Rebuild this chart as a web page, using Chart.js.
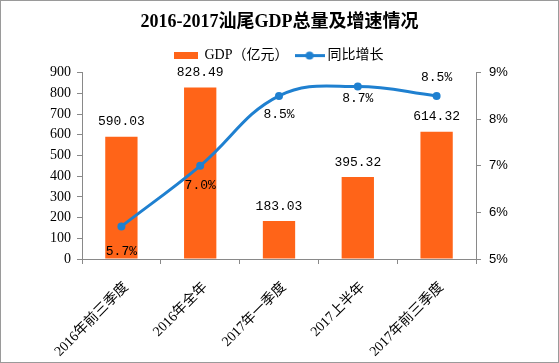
<!DOCTYPE html>
<html>
<head>
<meta charset="utf-8">
<script src="https://cdn.jsdelivr.net/npm/chart.js@4.4.0/dist/chart.umd.min.js"></script>
<style>
  html, body { margin: 0; padding: 0; background: #fff; }
</style>
</head>
<body>
<canvas id="gdpChart" width="559" height="363"></canvas>
<script>
// data
const categories = ['2016年前三季度', '2016年全年', '2017年一季度', '2017上半年', '2017年前三季度'];
const gdpValues = [590.03, 828.49, 183.03, 395.32, 614.32];   // 亿元
const growthValues = [5.7, 7.0, 8.5, 8.7, 8.5];              // %
const gdpTicks = { min: 0, max: 900, step: 100 };
const growthTicks = { min: 5, max: 9, step: 1 };

const ORANGE = '#ff6418';
const BLUE = '#1f80d0';
const AXIS = '#898989';
const SERIF = '"Liberation Serif", "Noto Sans CJK SC", serif';
const MONO = '"Liberation Mono", "Noto Sans CJK SC", monospace';

// legend symbols (excel style: flat bar, line with dot)
function makeIcon(w, h, draw) {
    const c = document.createElement('canvas');
    c.width = w; c.height = h;
    draw(c.getContext('2d'));
    return c;
}
const barIcon = makeIcon(24, 7, g => { g.fillStyle = ORANGE; g.fillRect(0, 0, 24, 7); });
const lineIcon = makeIcon(30, 9, g => {
    g.strokeStyle = BLUE; g.lineWidth = 3;
    g.beginPath(); g.moveTo(0, 4.5); g.lineTo(30, 4.5); g.stroke();
    g.fillStyle = BLUE;
    g.beginPath(); g.arc(15, 4.5, 4, 0, Math.PI * 2); g.fill();
});
const legendIcons = [barIcon, lineIcon];

// vertical offsets of the % labels (below the point, last one above)
const growthLabelDy = [25, 20, 19, 12, -18];

const frame = {
    id: 'frame',
    beforeDraw(chart) {
        const c = chart.ctx;
        c.save();
        c.fillStyle = '#fff';
        c.fillRect(0, 0, chart.width, chart.height);
        c.restore();
    },
    afterDraw(chart) {
        const c = chart.ctx;
        c.save();
        c.strokeStyle = '#9a9a9a';
        c.lineWidth = 1;
        c.strokeRect(0.5, 0.5, chart.width - 1, chart.height - 1);
        c.restore();
    }
};

const valueLabels = {
    id: 'valueLabels',
    afterDatasetsDraw(chart) {
        const c = chart.ctx;
        c.save();
        c.font = '13px ' + MONO;
        c.fillStyle = '#000';
        c.textAlign = 'center';
        c.textBaseline = 'middle';
        chart.getDatasetMeta(0).data.forEach((bar, i) => {
            c.fillText(gdpValues[i].toFixed(2), bar.x, bar.y - 15);
        });
        chart.getDatasetMeta(1).data.forEach((pt, i) => {
            c.fillText(growthValues[i].toFixed(1) + '%', pt.x, pt.y + growthLabelDy[i]);
        });
        c.restore();
    }
};

const ctx = document.getElementById('gdpChart').getContext('2d');
const chart = new Chart(ctx, {
    type: 'bar',
    data: {
        labels: categories,
        datasets: [
            {
                label: 'GDP（亿元）',
                data: gdpValues,
                backgroundColor: ORANGE,
                barPercentage: 1,
                categoryPercentage: 0.41,
                yAxisID: 'y',
                order: 1
            },
            {
                type: 'line',
                label: '同比增长',
                data: growthValues,
                borderColor: BLUE,
                backgroundColor: BLUE,
                borderWidth: 3,
                pointRadius: 4,
                pointBackgroundColor: BLUE,
                pointBorderWidth: 0,
                tension: 0.4,
                yAxisID: 'y1',
                order: 0
            }
        ]
    },
    options: {
        responsive: false,
        animation: false,
        layout: { padding: 0 },
        plugins: {
            title: {
                display: true,
                text: '2016-2017汕尾GDP总量及增速情况',
                color: '#000',
                font: { family: SERIF, size: 18, weight: 'bold' },
                padding: { top: 12, bottom: 5 }
            },
            legend: {
                display: true,
                labels: {
                    usePointStyle: true,
                    pointStyleWidth: 22,
                    color: '#000',
                    font: { family: SERIF, size: 14 },
                    padding: 10,
                    sort: (a, b) => a.datasetIndex - b.datasetIndex,
                    generateLabels(chart) {
                        const items = Chart.defaults.plugins.legend.labels.generateLabels(chart);
                        items.forEach(it => { it.pointStyle = legendIcons[it.datasetIndex]; });
                        return items;
                    }
                }
            },
            tooltip: { enabled: false }
        },
        scales: {
            x: {
                grid: { display: true, drawOnChartArea: false, offset: true, tickLength: 5, color: AXIS },
                border: { color: AXIS },
                ticks: {
                    color: '#000',
                    font: { family: SERIF, size: 14 },
                    minRotation: 45,
                    maxRotation: 45,
                    padding: 15,
                    labelOffset: 5
                },
                afterFit(s) { s.height = 104; }
            },
            y: {
                position: 'left',
                min: gdpTicks.min,
                max: gdpTicks.max,
                grid: { display: true, drawOnChartArea: false, tickLength: 5, color: AXIS },
                border: { color: AXIS },
                ticks: {
                    stepSize: gdpTicks.step,
                    color: '#000',
                    font: { family: SERIF, size: 14 },
                    padding: 6
                },
                afterFit(s) { s.width = 82; }
            },
            y1: {
                position: 'right',
                min: growthTicks.min,
                max: growthTicks.max,
                grid: { display: true, drawOnChartArea: false, tickLength: 5, color: AXIS },
                border: { color: AXIS },
                ticks: {
                    stepSize: growthTicks.step,
                    color: '#000',
                    font: { family: '"Liberation Sans", sans-serif', size: 13 },
                    padding: 8,
                    callback: v => v + '%'
                },
                afterFit(s) { s.width = 83; }
            }
        }
    },
    plugins: [frame, valueLabels]
});
</script>
</body>
</html>
